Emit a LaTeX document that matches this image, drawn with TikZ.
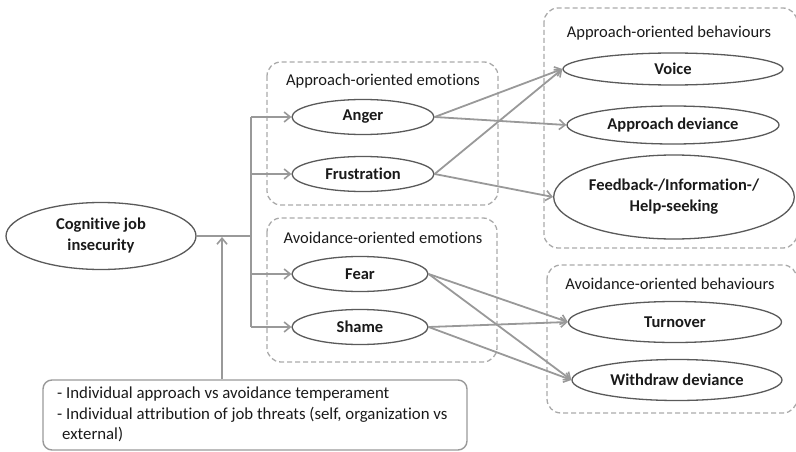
\documentclass[tikz,border=0pt]{standalone}
\usepackage{fontspec}
\setmainfont{Carlito}[Ligatures=NoCommon]
\usetikzlibrary{shapes.geometric,arrows.meta}
\definecolor{edgegray}{HTML}{999999}
\definecolor{rimgray}{HTML}{5A5A5A}
\definecolor{boxgray}{HTML}{AAAAAA}
\definecolor{txt}{HTML}{1A1A1A}
\tikzset{
  x=1pt, y=-1pt,
  oval/.style={ellipse, draw=rimgray, line width=1.3pt, fill=white, inner sep=0pt,
    font=\fontsize{16.5}{21}\selectfont\bfseries, text=txt, align=center},
  group/.style={draw=boxgray, line width=1.3pt, dash pattern=on 5pt off 3pt, rounded corners=14pt},
  grouplabel/.style={font=\fontsize{16.5}{18}\selectfont, text=txt, anchor=center},
  link/.style={draw=edgegray, line width=1.8pt},
  arr/.style={link, -{Straight Barb[length=6pt,width=10pt,line width=1.6pt]}},
}
\begin{document}
\begin{tikzpicture}
\useasboundingbox (0,0) rectangle (796,452);

% dashed groups
\draw[group] (267,62) rectangle (498,205);
\draw[group] (267,218) rectangle (497,362);
\draw[group] (544,8) rectangle (797,248);
\draw[group] (547,265) rectangle (797,413);

\node[grouplabel] (lae) at (383,81) {Approach-oriented emotions};
\node[grouplabel] (lve) at (383,238) {Avoidance-oriented emotions};
\node[grouplabel] (lab) at (669,33) {Approach-oriented behaviours};
\node[grouplabel] (lvb) at (670,284) {Avoidance-oriented behaviours};

% nodes
\node[oval, minimum width=190pt, minimum height=67pt] (cji) at (101,236) {Cognitive job\\insecurity};
\node[oval, minimum width=142pt, minimum height=35pt] (anger) at (363,117) {Anger};
\node[oval, minimum width=142pt, minimum height=35pt] (frus) at (363,174) {Frustration};
\node[oval, minimum width=136pt, minimum height=35pt] (fear) at (360,274) {Fear};
\node[oval, minimum width=136pt, minimum height=35pt] (shame) at (360,327) {Shame};
\node[oval, minimum width=220pt, minimum height=32pt] (voice) at (673,69) {Voice};
\node[oval, minimum width=212pt, minimum height=38pt] (adev) at (673,125) {Approach deviance};
\node[oval, minimum width=216pt, minimum height=84pt] (seek) at (674,197) {Feedback-/Information-/\\Help-seeking};
\node[oval, minimum width=213pt, minimum height=41pt] (turn) at (675,322) {Turnover};
\node[oval, minimum width=210pt, minimum height=41pt] (wdev) at (677,380) {Withdraw deviance};

% moderators
\node[draw=edgegray, line width=1.4pt, rounded corners=9pt, minimum width=424pt, minimum height=70pt,
  inner sep=0pt] (mod) at (255,415) {};
\node[anchor=north west, align=left, font=\fontsize{16.8}{20.5}\selectfont, text=txt, inner sep=0pt]
  (modtext) at (57,387) {- Individual approach vs avoidance temperament\\
  - Individual attribution of job threats (self, organization vs\\
  \hspace{0.3em}external)};

% trunk
\coordinate (ttop) at (251,117);
\coordinate (tbot) at (251,327);
\coordinate (tmid) at (251,236);
\coordinate (tfr) at (251,174);
\coordinate (tfe) at (251,274);
\coordinate (hit) at (222,237);
\draw[link] (cji.east) -- (tmid);
\draw[link] (ttop) -- (tbot);
\draw[arr] (ttop) -- (anger.west);
\draw[arr] (tfr) -- (frus.west);
\draw[arr] (tfe) -- (fear.west);
\draw[arr] (tbot) -- (shame.west);
\draw[arr] (mod.north -| hit) -- (hit);

% emotions to behaviours
\draw[arr] (anger.east) -- (voice.west);
\draw[arr] (anger.east) -- (adev.west);
\draw[arr] (frus.east) -- (voice.west);
\draw[arr] (frus.east) -- (seek.west);
\draw[arr] (fear.east) -- (turn.west);
\draw[arr] (fear.east) -- (wdev.west);
\draw[arr] (shame.east) -- (turn.west);
\draw[arr] (shame.east) -- (wdev.west);
\end{tikzpicture}
\end{document}
